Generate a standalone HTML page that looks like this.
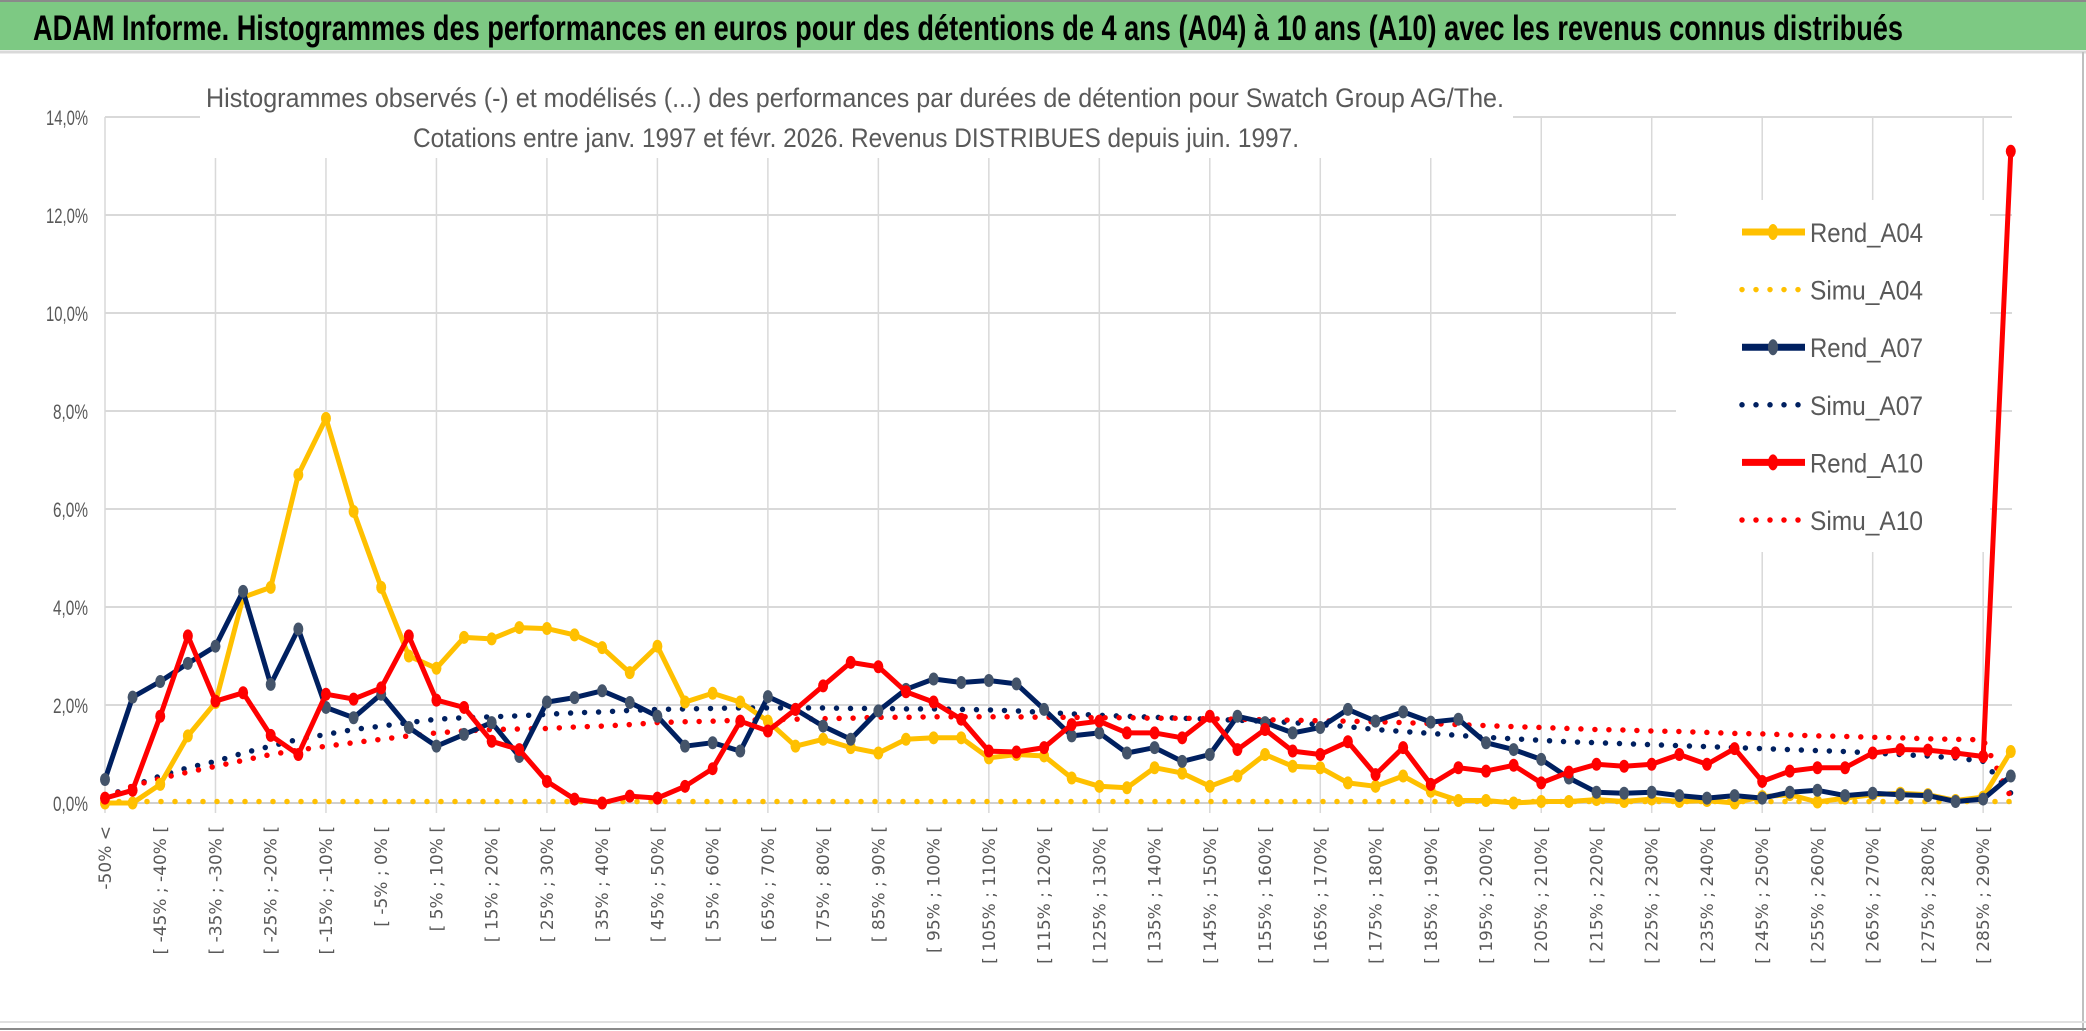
<!DOCTYPE html>
<html><head><meta charset="utf-8">
<style>
html,body{margin:0;padding:0;background:#fff;}
svg{display:block;}
</style></head>
<body>
<svg id="chart" width="2086" height="1031" viewBox="0 0 2086 1031" xmlns="http://www.w3.org/2000/svg" font-family="'Liberation Sans', sans-serif">
  <rect x="0" y="0" width="2086" height="1031" fill="#fff"/>
  <rect x="0" y="0" width="2086" height="50" fill="#7DC983"/>
  <line x1="0" y1="1" x2="2086" y2="1" stroke="#8a8a8a" stroke-width="2"/>
  <line x1="0" y1="52" x2="2086" y2="52" stroke="#d9d9d9" stroke-width="3"/>
  <text x="33" y="40" font-size="35" font-weight="bold" fill="#000" textLength="1870" lengthAdjust="spacingAndGlyphs">ADAM Informe. Histogrammes des performances en euros pour des détentions de 4 ans (A04) à 10 ans (A10) avec les revenus connus distribués</text>
  <line x1="2083" y1="52" x2="2083" y2="1031" stroke="#bfbfbf" stroke-width="2"/>
  <line x1="0" y1="1022" x2="2086" y2="1022" stroke="#e0e0e0" stroke-width="2"/>
  <line x1="0" y1="1029" x2="2086" y2="1029" stroke="#8a8a8a" stroke-width="2"/>
  <g id="grid"></g>
  <rect x="200" y="80" width="1313" height="78" fill="#fff"/>
  <text x="855" y="107" font-size="27" fill="#595959" text-anchor="middle" textLength="1298" lengthAdjust="spacingAndGlyphs">Histogrammes observés (-) et modélisés (...) des performances par durées de détention pour Swatch Group AG/The.</text>
  <text x="856" y="147" font-size="27" fill="#595959" text-anchor="middle" textLength="886" lengthAdjust="spacingAndGlyphs">Cotations entre janv. 1997 et févr. 2026. Revenus DISTRIBUES depuis juin. 1997.</text>
  <g id="yaxis"></g>
  <g id="xaxis"></g>
  <rect x="1676" y="200" width="314" height="352" fill="#fff"/>
  <g id="series"></g>
  <g id="legend"></g>
</svg>
<script>
const categories = ["-50% <","[ -50% ; -45% [","[ -45% ; -40% [","[ -40% ; -35% [","[ -35% ; -30% [","[ -30% ; -25% [","[ -25% ; -20% [","[ -20% ; -15% [","[ -15% ; -10% [","[ -10% ; -5% [",
"[ -5% ; 0% [","[ 0% ; 5% [","[ 5% ; 10% [","[ 10% ; 15% [","[ 15% ; 20% [","[ 20% ; 25% [","[ 25% ; 30% [","[ 30% ; 35% [","[ 35% ; 40% [","[ 40% ; 45% [",
"[ 45% ; 50% [","[ 50% ; 55% [","[ 55% ; 60% [","[ 60% ; 65% [","[ 65% ; 70% [","[ 70% ; 75% [","[ 75% ; 80% [","[ 80% ; 85% [","[ 85% ; 90% [","[ 90% ; 95% [",
"[ 95% ; 100% [","[ 100% ; 105% [","[ 105% ; 110% [","[ 110% ; 115% [","[ 115% ; 120% [","[ 120% ; 125% [","[ 125% ; 130% [","[ 130% ; 135% [","[ 135% ; 140% [","[ 140% ; 145% [",
"[ 145% ; 150% [","[ 150% ; 155% [","[ 155% ; 160% [","[ 160% ; 165% [","[ 165% ; 170% [","[ 170% ; 175% [","[ 175% ; 180% [","[ 180% ; 185% [","[ 185% ; 190% [","[ 190% ; 195% [",
"[ 195% ; 200% [","[ 200% ; 205% [","[ 205% ; 210% [","[ 210% ; 215% [","[ 215% ; 220% [","[ 220% ; 225% [","[ 225% ; 230% [","[ 230% ; 235% [","[ 235% ; 240% [","[ 240% ; 245% [",
"[ 245% ; 250% [","[ 250% ; 255% [","[ 255% ; 260% [","[ 260% ; 265% [","[ 265% ; 270% [","[ 270% ; 275% [","[ 275% ; 280% [","[ 280% ; 285% [","[ 285% ; 290% [","[ 290% ; 295% ["];
const yTicks = [0,2,4,6,8,10,12,14];
const yTickLabels = ["0,0%","2,0%","4,0%","6,0%","8,0%","10,0%","12,0%","14,0%"];
const rendA04 = [0,0,0.38,1.37,2.05,4.2,4.4,6.7,7.85,5.95, 4.4,3.0,2.75,3.38,3.35,3.58,3.56,3.43,3.17,2.66, 3.2,2.06,2.24,2.06,1.67,1.16,1.3,1.13,1.02,1.3, 1.33,1.33,0.92,0.99,0.96,0.51,0.34,0.31,0.72,0.61, 0.34,0.55,0.99,0.75,0.72,0.41,0.34,0.55,0.24,0.05, 0.05,0.0,0.03,0.03,0.07,0.03,0.08,0.03,0.05,0.0, 0.13,0.17,0.02,0.1,0.17,0.2,0.17,0.05,0.12,1.05];
const simuA04 = [0.03,0.03,0.03,0.03,0.03,0.03,0.03,0.03,0.03,0.03, 0.03,0.03,0.03,0.03,0.03,0.03,0.03,0.03,0.03,0.03, 0.03,0.03,0.03,0.03,0.03,0.03,0.03,0.03,0.03,0.03, 0.03,0.03,0.03,0.03,0.03,0.03,0.03,0.03,0.03,0.03, 0.03,0.03,0.03,0.03,0.03,0.03,0.03,0.03,0.03,0.03, 0.03,0.03,0.03,0.03,0.03,0.03,0.03,0.03,0.03,0.03, 0.03,0.03,0.03,0.03,0.03,0.03,0.03,0.03,0.03,0.03];
const rendA07 = [0.48,2.16,2.48,2.85,3.2,4.32,2.42,3.55,1.95,1.74, 2.22,1.54,1.16,1.4,1.64,0.95,2.06,2.15,2.29,2.05, 1.77,1.16,1.23,1.06,2.17,1.91,1.57,1.3,1.88,2.32, 2.53,2.46,2.5,2.43,1.91,1.37,1.43,1.02,1.13,0.85, 0.99,1.77,1.64,1.43,1.54,1.91,1.67,1.86,1.65,1.71, 1.23,1.09,0.89,0.51,0.22,0.2,0.22,0.15,0.1,0.15, 0.1,0.22,0.26,0.15,0.2,0.17,0.15,0.03,0.08,0.55];
const simuA07 = [0.12,0.35,0.55,0.72,0.85,1.02,1.16,1.3,1.4,1.5, 1.57,1.64,1.71,1.74,1.76,1.78,1.81,1.84,1.86,1.89, 1.91,1.92,1.93,1.94,1.94,1.94,1.94,1.93,1.93,1.92, 1.92,1.91,1.9,1.88,1.85,1.82,1.79,1.77,1.75,1.73, 1.71,1.69,1.67,1.64,1.6,1.56,1.5,1.46,1.42,1.38, 1.34,1.31,1.28,1.25,1.23,1.21,1.19,1.17,1.15,1.13, 1.11,1.09,1.07,1.05,1.02,0.99,0.96,0.92,0.85,0.2];
const rendA10 = [0.1,0.26,1.77,3.41,2.08,2.25,1.38,0.99,2.22,2.12, 2.35,3.41,2.1,1.95,1.26,1.09,0.44,0.08,0.0,0.14, 0.1,0.34,0.7,1.67,1.47,1.91,2.39,2.87,2.78,2.27, 2.06,1.71,1.06,1.04,1.13,1.6,1.67,1.43,1.43,1.33, 1.77,1.09,1.5,1.06,0.99,1.25,0.58,1.13,0.38,0.72, 0.65,0.77,0.41,0.63,0.79,0.75,0.79,0.99,0.79,1.11, 0.44,0.65,0.72,0.72,1.02,1.09,1.08,1.02,0.95,13.3];
const simuA10 = [0.1,0.35,0.5,0.63,0.75,0.87,0.99,1.08,1.16,1.23, 1.3,1.37,1.43,1.47,1.5,1.51,1.52,1.55,1.57,1.6, 1.64,1.66,1.67,1.69,1.7,1.71,1.72,1.73,1.75,1.75, 1.76,1.76,1.76,1.76,1.75,1.75,1.74,1.74,1.73,1.73, 1.72,1.71,1.7,1.69,1.68,1.67,1.66,1.64,1.62,1.6, 1.58,1.56,1.54,1.52,1.5,1.49,1.47,1.46,1.44,1.42, 1.41,1.39,1.37,1.36,1.34,1.33,1.31,1.3,1.29,0.12];
const seriesNames = ["Rend_A04","Simu_A04","Rend_A07","Simu_A07","Rend_A10","Simu_A10"];

const NS = "http://www.w3.org/2000/svg";
const X0 = 105, DX = 27.62, Y0 = 803, DY = 49, XR = 2012, YTOP = 117;
function xS(i){ return X0 + DX * i; }
function yS(v){ return Y0 - DY * v; }
function mk(tag, attrs, parent){
  const el = document.createElementNS(NS, tag);
  for (const k in attrs) el.setAttribute(k, attrs[k]);
  parent.appendChild(el);
  return el;
}
const grid = document.getElementById('grid');
yTicks.forEach(function(t){
  const l = mk('line', {x1:X0, x2:XR, y1:yS(t), y2:yS(t), stroke: t===0 ? '#d0d0d0' : '#d9d9d9', 'stroke-width':2}, grid);
  
  
});
categories.forEach(function(c, i){
  if (i % 4 === 0) {
    const l = mk('line', {x1:xS(i), x2:xS(i), y1:YTOP, y2:Y0 + 10, stroke:'#d9d9d9', 'stroke-width':1.5}, grid);
    
    
  }
});
const yaxis = document.getElementById('yaxis');
yTicks.forEach(function(t, k){
  const tx = mk('text', {x:88, y:yS(t) + 8, 'text-anchor':'end', 'font-size':21, fill:'#595959', textLength: yTickLabels[k].length > 4 ? 42 : 35, lengthAdjust:'spacingAndGlyphs'}, yaxis);
  tx.textContent = yTickLabels[k];
  
  
});
const xaxis = document.getElementById('xaxis');
categories.forEach(function(c, i){
  if (i % 2 !== 0) return;
  const x = xS(i) + 6, y = 826;
  const tx = mk('text', {x:x, y:y, transform:'rotate(-90 ' + x + ' ' + y + ')', 'text-anchor':'end', 'font-size':17, fill:'#595959', 'font-family':"'DejaVu Sans', sans-serif"}, xaxis);
  tx.textContent = c;
  
  
});
const sg = document.getElementById('series');
function pathD(vals){ return vals.map(function(v,i){ return (i ? 'L' : 'M') + xS(i).toFixed(1) + ' ' + yS(v).toFixed(1); }).join(' '); }
function dotted(vals, color, name){
  const p = mk('path', {d:pathD(vals), fill:'none', stroke:color, 'stroke-width':5.5, 'stroke-linecap':'round', 'stroke-dasharray':'0 14'}, sg);
  
  
}
function solid(vals, color, mcolor, name){
  const g = mk('g', {}, sg);
  
  
  const p = mk('path', {d:pathD(vals), fill:'none', stroke:color, 'stroke-width':5, 'stroke-linejoin':'round'}, g);
  
  
  vals.forEach(function(v, i){
    const c = mk('ellipse', {cx:xS(i), cy:yS(v), rx:5, ry:6.5, fill:mcolor}, g);
    
    
  });
}
dotted(simuA04, '#FFC000', 'simu-a04-series');
dotted(simuA07, '#002060', 'simu-a07-series');
dotted(simuA10, '#FF0000', 'simu-a10-series');
solid(rendA04, '#FFC000', '#FFC000', 'rend-a04-series');
solid(rendA07, '#002060', '#44546A', 'rend-a07-series');
solid(rendA10, '#FF0000', '#FF0000', 'rend-a10-series');

const legend = document.getElementById('legend');
const legColors = ['#FFC000','#FFC000','#002060','#002060','#FF0000','#FF0000'];
const legMarker = ['#FFC000','#FFC000','#44546A','#44546A','#FF0000','#FF0000'];
seriesNames.forEach(function(n, k){
  const y = 232 + k * 57.6;
  const g = mk('g', {}, legend);
  
  
  if (k % 2 === 0) {
    mk('line', {x1:1742, x2:1805, y1:y, y2:y, stroke:legColors[k], 'stroke-width':7}, g);
    mk('ellipse', {cx:1773, cy:y, rx:5, ry:8, fill:legMarker[k]}, g);
  } else {
    mk('line', {x1:1742, x2:1800, y1:y, y2:y, stroke:legColors[k], 'stroke-width':5.5, 'stroke-linecap':'round', 'stroke-dasharray':'0 14'}, g);
  }
  const t = mk('text', {x:1810, y:y + 10, 'font-size':27, fill:'#595959', textLength:113, lengthAdjust:'spacingAndGlyphs'}, g);
  t.textContent = n;
  
  
});
</script>
</body></html>
